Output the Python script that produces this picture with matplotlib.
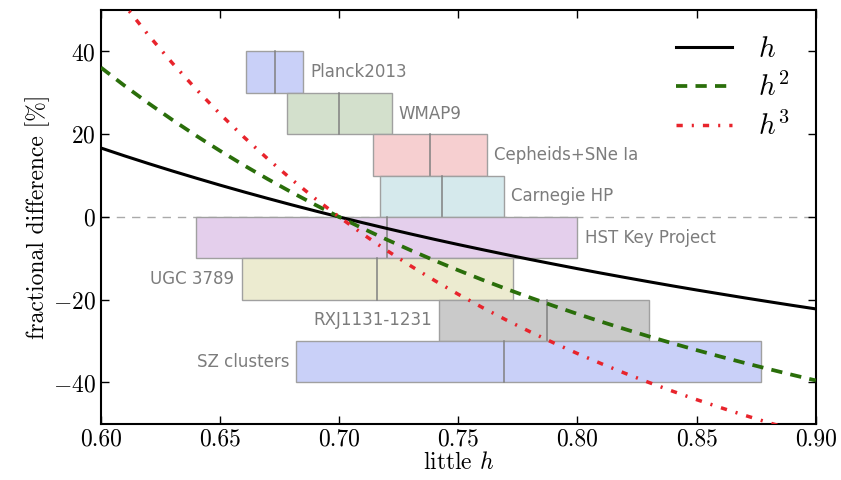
import matplotlib
matplotlib.use("Agg")
import matplotlib.pyplot as plt
from matplotlib.patches import Rectangle

plt.rcParams['font.family'] = 'cmr10'
plt.rcParams['mathtext.fontset'] = 'cm'
plt.rcParams['axes.formatter.use_mathtext'] = True

# little h grid and fractional difference [%] of h, h^2, h^3
h_vals = [0.60, 0.61, 0.62, 0.63, 0.64, 0.65, 0.66, 0.67, 0.68, 0.69, 0.70,
          0.71, 0.72, 0.73, 0.74, 0.75, 0.76, 0.77, 0.78, 0.79, 0.80,
          0.81, 0.82, 0.83, 0.84, 0.85, 0.86, 0.87, 0.88, 0.89, 0.90]
diff_h1 = [16.67, 14.75, 12.90, 11.11, 9.38, 7.69, 6.06, 4.48, 2.94, 1.45, 0.0,
           -1.41, -2.78, -4.11, -5.41, -6.67, -7.89, -9.09, -10.26, -11.39, -12.50,
           -13.58, -14.63, -15.66, -16.67, -17.65, -18.60, -19.54, -20.45, -21.35, -22.22]
diff_h2 = [36.11, 31.68, 27.47, 23.46, 19.63, 15.98, 12.49, 9.16, 5.97, 2.92, 0.0,
           -2.80, -5.48, -8.05, -10.52, -12.89, -15.17, -17.36, -19.46, -21.49, -23.44,
           -25.32, -27.13, -28.87, -30.56, -32.18, -33.75, -35.26, -36.72, -38.14, -39.51]
diff_h3 = [58.80, 51.11, 43.91, 37.17, 30.85, 24.90, 19.31, 14.05, 9.09, 4.41, 0.0,
           -4.17, -8.10, -11.83, -15.35, -18.70, -21.86, -24.87, -27.72, -30.43, -33.01,
           -35.46, -37.79, -40.01, -42.13, -44.15, -46.07, -47.91, -49.67, -51.35, -52.95]

# measurements of H0 / 100
names = ['Planck2013', 'WMAP9', 'Cepheids+SNe Ia', 'Carnegie HP',
         'HST Key Project', 'UGC 3789', 'RXJ1131-1231', 'SZ clusters']
h_center = [0.673, 0.700, 0.738, 0.743, 0.720, 0.716, 0.787, 0.769]
h_low = [0.661, 0.678, 0.714, 0.717, 0.640, 0.659, 0.742, 0.682]
h_high = [0.685, 0.722, 0.762, 0.769, 0.800, 0.773, 0.830, 0.877]
row_top = [40, 30, 20, 10, 0, -10, -20, -30]
box_colors = ['#c9d0f8', '#d3e0cc', '#f6cfd0', '#d5e9ec',
              '#e4cfec', '#ecebd0', '#cacaca', '#c9d0f8']
label_right = [True, True, True, True, True, False, False, False]

fig = plt.figure(figsize=(8.41, 4.80), dpi=100)
ax = fig.add_axes([0.120, 0.117, 0.850, 0.862])

ax.axhline(0, color='#aaaaaa', ls='--', lw=1, dashes=(6, 5), zorder=1)

for i in range(len(names)):
    y0 = row_top[i] - 10
    ax.add_patch(Rectangle((h_low[i], y0), h_high[i] - h_low[i], 10,
                           facecolor=box_colors[i], edgecolor='#a0a0a0', lw=1.0, zorder=2))
    ax.plot([h_center[i], h_center[i]], [y0, row_top[i]], color='#808080', lw=1.1, zorder=2)
    if label_right[i]:
        ax.text(h_high[i] + 0.003, row_top[i] - 5, names[i], ha='left', va='center',
                fontsize=12, color='#7c7c7c', family='DejaVu Sans')
    else:
        ax.text(h_low[i] - 0.003, row_top[i] - 5, names[i], ha='right', va='center',
                fontsize=12, color='#7c7c7c', family='DejaVu Sans')

ax.plot(h_vals, diff_h1, color='k', lw=2.2, label='$h$', zorder=3)
ax.plot(h_vals, diff_h2, color='#2a6e0a', lw=2.7, dashes=(3.0, 2.2), label='$h^2$', zorder=3)
ax.plot(h_vals, diff_h3, color='#e8242c', lw=2.5, dashes=(1.8, 2.6, 0.6, 2.6), label='$h^3$', zorder=3)

ax.set_xlim(0.60, 0.90)
ax.set_ylim(-50, 50)
ax.set_xticks([0.60, 0.65, 0.70, 0.75, 0.80, 0.85, 0.90])
ax.set_xticklabels(['0.60', '0.65', '0.70', '0.75', '0.80', '0.85', '0.90'])
ax.set_yticks([-40, -20, 0, 20, 40])
ax.tick_params(direction='in', top=True, right=True, labelsize=17, length=6, width=1)
for s in ax.spines.values():
    s.set_linewidth(1.5)

ax.set_xlabel('little $h$', fontsize=17, labelpad=1)
ax.set_ylabel('fractional difference [%]', fontsize=17, labelpad=2)

ax.legend(loc='upper right', frameon=False, fontsize=21, handlelength=1.9,
          handletextpad=0.9, labelspacing=0.35, borderaxespad=0.5)

fig.savefig('out.png', dpi=100)
